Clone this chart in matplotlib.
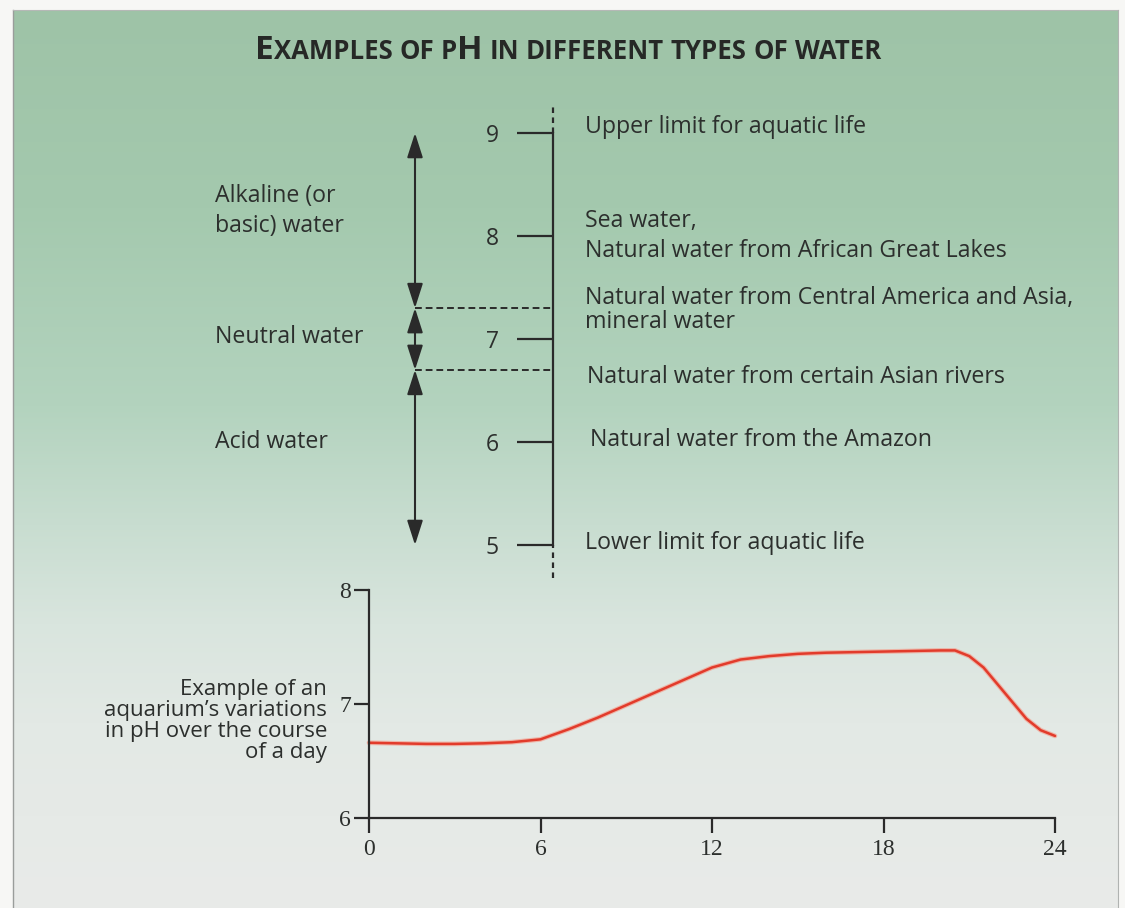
import matplotlib
matplotlib.use("Agg")
import matplotlib.pyplot as plt
import numpy as np

# ---------------- data ----------------
title_text = "Examples of pH in different types of water"

scale_ph_ticks = [5, 6, 7, 8, 9]
upper_limit_ph = 9.0
lower_limit_ph = 5.0
neutral_low_ph = 6.7
neutral_high_ph = 7.3

category_labels = ["Alkaline (or\nbasic) water", "Neutral water", "Acid water"]
water_examples = [
    "Upper limit for aquatic life",
    "Sea water,",
    "Natural water from African Great Lakes",
    "Natural water from Central America and Asia,\nmineral water",
    "Natural water from certain Asian rivers",
    "Natural water from the Amazon",
    "Lower limit for aquatic life",
]

aquarium_label = "Example of an\naquarium\u2019s variations\nin pH over the course\nof a day"
hours = [0, 1, 2, 3, 4, 5, 6, 7, 8, 9, 10, 11, 12, 13, 14, 15, 16, 17, 18, 19,
         20, 20.5, 21, 21.5, 22, 22.5, 23, 23.5, 24]
ph_day = [6.66, 6.655, 6.65, 6.65, 6.655, 6.665, 6.69, 6.78, 6.88, 6.99, 7.10,
          7.21, 7.32, 7.39, 7.42, 7.44, 7.45, 7.455, 7.46, 7.465, 7.47, 7.47,
          7.42, 7.32, 7.17, 7.02, 6.87, 6.77, 6.72]
day_xticks = [0, 6, 12, 18, 24]
day_yticks = [6, 7, 8]

# ---------------- style ----------------
W, H = 1125, 908
TXT = "#2c2f2d"
LINE = "#2a2a2a"
RED = "#e23b2b"
SANS = "Open Sans"
SERIF = "Liberation Serif"
plt.rcParams["font.family"] = [SANS, "DejaVu Sans"]

fig = plt.figure(figsize=(W / 100, H / 100), dpi=100)

# background (page + gradient)
bg = fig.add_axes([0, 0, 1, 1])
bg.set_xlim(0, W)
bg.set_ylim(H, 0)
bg.axis("off")
bg.add_patch(plt.Rectangle((0, 0), W, H, color="#f7f7f5", zorder=0))
stops_y = [0, 200, 400, 520, 620, 720, 908]
stops_c = ["#9ec3a7", "#a4c9ae", "#b3d3be", "#c8ddd0", "#d9e5de", "#e3e9e5", "#e9ebe9"]
rgb = np.array([matplotlib.colors.to_rgb(c) for c in stops_c])
yy = np.arange(H)
grad = np.stack([np.interp(yy, stops_y, rgb[:, k]) for k in range(3)], axis=-1)
grad = grad[:, None, :]
bg.imshow(grad, extent=[13, 1118, H, 10], aspect="auto", zorder=1)
bg.plot([13, 13], [10, H], color="#9a9d9b", lw=1.0, zorder=2)
bg.plot([13, 1118], [10, 10], color="#b5b8b6", lw=0.8, zorder=2)
bg.plot([1118, 1118], [10, H], color="#b0b3b1", lw=0.8, zorder=2)

# ---------------- title in small caps ----------------
renderer = fig.canvas.get_renderer()
BIG, SMALL = 24, 18.5
title_base_y = 59
pieces = []
for ch in title_text:
    if ch == " ":
        pieces.append((" ", SMALL))
        continue
    size = BIG if ch.isupper() else SMALL
    if pieces and pieces[-1][1] == size and pieces[-1][0] != " ":
        pieces[-1] = (pieces[-1][0] + ch.upper(), size)
    else:
        pieces.append((ch.upper(), size))

def _w(s, size):
    t = bg.text(0, 0, s, fontsize=size, fontweight="bold")
    w = t.get_window_extent(renderer).width
    t.remove()
    return w

space_w = _w("N N", SMALL) - _w("NN", SMALL)
widths = [space_w if s == " " else _w(s, sz) for s, sz in pieces]
total = sum(widths)
x = 568 - total / 2
for (s, sz), w in zip(pieces, widths):
    if s != " ":
        bg.text(x, title_base_y, s, fontsize=sz, fontweight="bold", color="#262826",
                ha="left", va="baseline", zorder=5)
    x += w

# ---------------- pH scale ----------------
PX_PER_PH = 103.0
Y9 = 133.0
top_px, bot_px = 100.0, 580.0
ax = fig.add_axes([0, 1 - bot_px / H, 1, (bot_px - top_px) / H])
ax.patch.set_visible(False)
ax.set_xlim(0, W)
ax.set_ylim(upper_limit_ph - (bot_px - Y9) / PX_PER_PH,
            upper_limit_ph + (Y9 - top_px) / PX_PER_PH)
for s in ["top", "right", "bottom"]:
    ax.spines[s].set_visible(False)
SCALE_X = 553
ax.spines["left"].set_position(("data", SCALE_X))
ax.spines["left"].set_bounds(lower_limit_ph, upper_limit_ph)
ax.spines["left"].set_linewidth(1.6)
ax.spines["left"].set_color(LINE)
ax.xaxis.set_visible(False)
ax.set_yticks(scale_ph_ticks)
ax.set_yticklabels([str(v) for v in scale_ph_ticks])
ax.tick_params(axis="y", direction="out", length=26, width=1.6, pad=13,
               labelsize=16.5, colors=LINE, labelcolor=TXT)
lo, hi = ax.get_ylim()
ax.plot([SCALE_X, SCALE_X], [upper_limit_ph, hi - 0.05], color=LINE, lw=1.6,
        ls=(0, (2.5, 2)))
ax.plot([SCALE_X, SCALE_X], [lo + 0.02, lower_limit_ph], color=LINE, lw=1.6,
        ls=(0, (2.5, 2)))

ARROW_X = 415
for ph in [neutral_high_ph, neutral_low_ph]:
    ax.plot([ARROW_X, SCALE_X], [ph, ph], color=LINE, lw=1.4, ls=(0, (3.5, 2)))
ranges = [(neutral_high_ph, upper_limit_ph), (neutral_low_ph, neutral_high_ph),
          (lower_limit_ph, neutral_low_ph)]
for a, b in ranges:
    ax.annotate("", xy=(ARROW_X, b), xytext=(ARROW_X, a),
                arrowprops=dict(arrowstyle="<|-|>,head_length=0.75,head_width=0.24",
                                color=LINE, lw=1.5, shrinkA=0, shrinkB=0,
                                mutation_scale=20))

FS = 16.7
# left category labels (pixel baselines)
cat_pos = [(215, [202, 232]), (215, [343]), (215, [448])]
for label, (x0, bases) in zip(category_labels, cat_pos):
    for line, yb in zip(label.split("\n"), bases):
        bg.text(x0, yb, line, fontsize=FS, color=TXT, ha="left", va="baseline", zorder=5)

ex_pos = [(585, [133]), (585, [227]), (585, [257]), (585, [304, 328]),
          (587, [383]), (590, [446]), (585, [549])]
for label, (x0, bases) in zip(water_examples, ex_pos):
    for line, yb in zip(label.split("\n"), bases):
        bg.text(x0, yb, line, fontsize=FS, color=TXT, ha="left", va="baseline", zorder=5)

# ---------------- daily variation chart ----------------
bx0, bx1, by0, by1 = 369, 1055, 590, 818
ax2 = fig.add_axes([bx0 / W, 1 - by1 / H, (bx1 - bx0) / W, (by1 - by0) / H])
ax2.patch.set_visible(False)
ax2.set_xlim(day_xticks[0], day_xticks[-1])
ax2.set_ylim(day_yticks[0], day_yticks[-1])
for s in ["top", "right"]:
    ax2.spines[s].set_visible(False)
for s in ["left", "bottom"]:
    ax2.spines[s].set_linewidth(1.6)
    ax2.spines[s].set_color(LINE)
ax2.set_xticks(day_xticks, [str(v) for v in day_xticks], fontfamily=SERIF, fontsize=17)
ax2.set_yticks(day_yticks, [str(v) for v in day_yticks], fontfamily=SERIF, fontsize=17)
ax2.tick_params(axis="x", direction="out", length=11, width=1.6, pad=4,
                colors=LINE, labelcolor=TXT)
ax2.tick_params(axis="y", direction="out", length=11, width=1.6, pad=2,
                colors=LINE, labelcolor=TXT)
ax2.plot(hours, ph_day, color="#f3a08f", lw=3.4, alpha=0.7, solid_capstyle="round",
         clip_on=False)
ax2.plot(hours, ph_day, color=RED, lw=1.8, solid_capstyle="round", clip_on=False)

bg.text(327, 758, aquarium_label, fontsize=16, color=TXT, ha="right",
        multialignment="right", va="baseline", linespacing=1.0, zorder=5)

fig.savefig("out.png", dpi=100)
